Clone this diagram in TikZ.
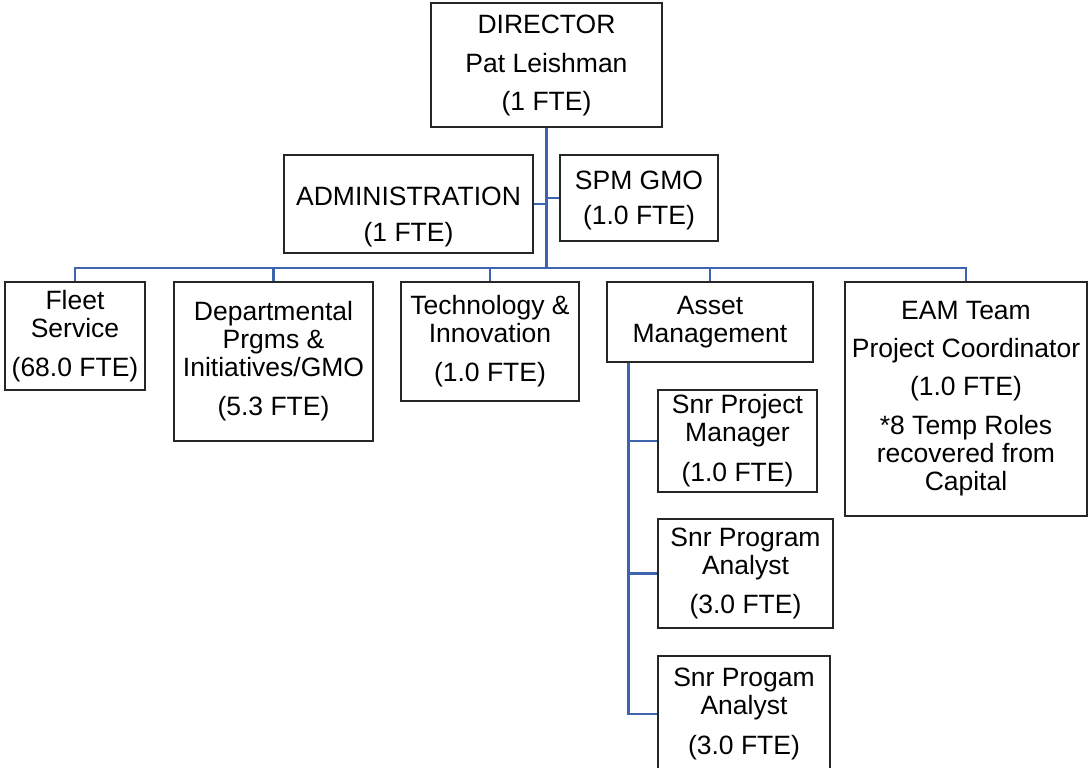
\documentclass[tikz,border=0pt]{standalone}
\usepackage{fontspec}
\setmainfont{Liberation Sans}
\definecolor{conn}{RGB}{62,100,176}
\begin{document}
\begin{tikzpicture}[x=1pt,y=-1pt,
  box/.style={draw=black!85, line width=1.4pt, fill=white, inner sep=0pt, align=center,
    font=\fontsize{26.5}{28}\selectfont},
  link/.style={draw=conn, line width=2.4pt}]
\useasboundingbox (0,0) rectangle (1088,768);
\node[box, minimum width=231pt, minimum height=124pt] (dir) at (546.5,65) {DIRECTOR\\[11pt]Pat Leishman\\[10pt](1 FTE)};
\node[box, minimum width=249pt, minimum height=98pt] (adm) at (408.5,204) {\rule{0pt}{44pt}ADMINISTRATION\\[8pt](1 FTE)};
\node[box, minimum width=158pt, minimum height=86pt] (spm) at (639,198) {\rule{0pt}{24pt}SPM GMO\\[7pt](1.0 FTE)};
\node[box, minimum width=140pt, minimum height=108pt] (fleet) at (75,336) {Fleet\\Service\\[11pt](68.0 FTE)};
\node[box, minimum width=199pt, minimum height=159pt] (dept) at (273.5,361.5) {Departmental\\Prgms \&\\Initiatives/GMO\\[11pt](5.3 FTE)};
\node[box, minimum width=178pt, minimum height=119pt] (tech) at (490,341.5) {Technology \&\\Innovation\\[11pt](1.0 FTE)};
\node[box, minimum width=206pt, minimum height=80pt] (asset) at (710,322) {Asset\\Management};
\node[box, minimum width=242pt, minimum height=234pt] (eam) at (966,399) {EAM Team\\[10pt]Project Coordinator\\[10pt](1.0 FTE)\\[11pt]*8 Temp Roles\\recovered from\\Capital};
\node[box, minimum width=159pt, minimum height=102pt] (spmgr) at (737.5,441) {Snr Project\\Manager\\[12pt](1.0 FTE)};
\node[box, minimum width=175pt, minimum height=109pt] (pa1) at (745.5,573.5) {Snr Program\\Analyst\\[11pt](3.0 FTE)};
\node[box, minimum width=172pt, minimum height=116pt] (pa2) at (744,714) {Snr Progam\\Analyst\\[12pt](3.0 FTE)};
\coordinate (j) at (546.5,268);
\draw[link] (dir.south) -- (j);
\draw[link] (adm.east) -- (adm.east -| dir.south);
\draw[link] (spm.west) -- (spm.west -| dir.south);
\draw[link] (fleet.north) -- (fleet.north |- j) -| (eam.north);
\draw[link] (dept.north) -- (dept.north |- j);
\draw[link] (tech.north) -- (tech.north |- j);
\draw[link] (asset.north) -- (asset.north |- j);
\draw[link] ([xshift=22pt]asset.south west) |- (spmgr.west);
\draw[link] ([xshift=22pt]asset.south west) |- (pa1.west);
\draw[link] ([xshift=22pt]asset.south west) |- (pa2.west);
\end{tikzpicture}
\end{document}
